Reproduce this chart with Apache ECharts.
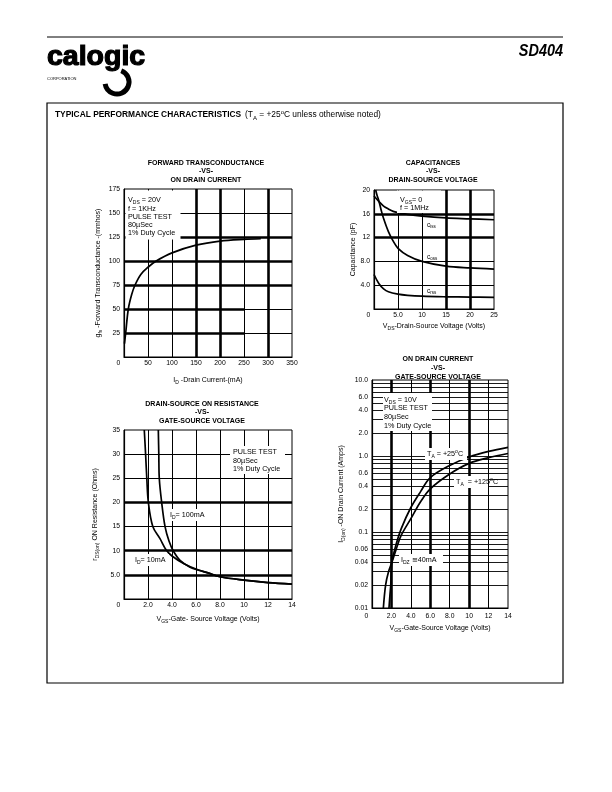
<!DOCTYPE html>
<html><head><meta charset="utf-8">
<script src="https://cdn.jsdelivr.net/npm/echarts@6/dist/echarts.min.js"></script>
<style>html,body{margin:0;padding:0;background:#fff}#c{width:612px;height:792px}</style>
</head><body><div id="c"></div>
<script>
// ---------------- DATA ----------------
// Chart 1: Forward transconductance vs on drain current
const gfsDrainCurrent = [1, 3.5, 9, 16, 23, 35, 50, 67, 100, 150, 200, 250, 285];
const gfsValues       = [14, 25, 50, 65, 75, 86, 93.5, 100, 108.5, 116.5, 120.8, 122.6, 123.2];
const gfsXTicks = ['0', '50', '100', '150', '200', '250', '300', '350'];
const gfsYTicks = ['', '25', '50', '75', '100', '125', '150', '175'];

// Chart 2: Capacitances vs drain-source voltage
const cissVoltage = [0, 1, 2, 3, 4, 5, 7, 10, 15, 20, 25];
const cissValues  = [19.0, 18.1, 17.3, 16.8, 16.4, 16.2, 15.9, 15.6, 15.3, 15.15, 15.0];
const cossVoltage = [0.35, 0.6, 1.0, 1.5, 2, 3, 4, 5, 7, 10, 15, 20, 25];
const cossValues  = [20, 19.2, 18.2, 16.6, 15.2, 13.0, 11.4, 10.2, 9.0, 8.0, 7.2, 6.9, 6.7];
const crssVoltage = [0, 1, 2, 3, 5, 7, 10, 15, 20, 25];
const crssValues  = [5.8, 4.3, 3.4, 2.9, 2.5, 2.3, 2.15, 2.05, 2.0, 1.95];
const capXTicks = ['0', '5.0', '10', '15', '20', '25'];
const capYTicks = ['', '4.0', '8.0', '12', '16', '20'];

// Chart 3: Drain-source on resistance vs gate-source voltage
const ronVgs10mA  = [1.69, 1.8, 1.9, 2.03, 2.4, 3.0, 3.5, 4.0, 5.0, 6.0, 7.0, 8.0, 10, 12, 14];
const ron10mA     = [35, 30, 25, 20, 15, 12.5, 10.2, 8.9, 7.3, 6.2, 5.4, 4.6, 3.9, 3.4, 3.1];
const ronVgs100mA = [2.86, 2.9, 2.94, 3.14, 3.42, 3.75, 4.1, 4.67, 5.5, 6.3, 7.0, 8.0, 10, 12, 14];
const ron100mA    = [35, 30, 25, 20, 15, 12, 10, 8, 6.6, 5.9, 5.4, 4.6, 3.9, 3.4, 3.1];
const ronXTicks = ['0', '2.0', '4.0', '6.0', '8.0', '10', '12', '14'];
const ronYTicks = ['', '5.0', '10', '15', '20', '25', '30', '35'];

// Chart 4: On drain current vs gate-source voltage (log)
const idVgs25  = [1.75, 1.85, 1.93, 2.05, 2.5, 3.0, 4.0, 5.0, 6.0, 8.0, 10, 12, 14];
const id25     = [0.01, 0.015, 0.02, 0.04, 0.07, 0.11, 0.21, 0.34, 0.52, 0.75, 0.97, 1.15, 1.3];
const idVgs125 = [1.17, 1.4, 1.7, 2.05, 2.5, 3.0, 4.0, 5.0, 6.0, 8.0, 10, 12, 14];
const id125    = [0.01, 0.02, 0.03, 0.04, 0.06, 0.09, 0.15, 0.25, 0.37, 0.58, 0.8, 0.95, 1.08];
const idXTicks = ['0', '2.0', '4.0', '6.0', '8.0', '10', '12', '14'];
const idYTickValues = [10, 6, 4, 2, 1, 0.6, 0.4, 0.2, 0.1, 0.06, 0.04, 0.02, 0.01];
const idYTickLabels = ['10.0', '6.0', '4.0', '2.0', '1.0', '0.6', '0.4', '0.2', '0.1', '0.06', '0.04', '0.02', '0.01'];
const idLogGridValues = [0.02,0.03,0.04,0.05,0.06,0.07,0.08,0.09,0.1,0.2,0.3,0.4,0.5,0.6,0.7,0.8,0.9,1,2,3,4,5,6,7,8,9];

// Grid line values (axis values)
const g1ThinY = [150], g1ThickY = [125, 100, 75];
const g1PartialY = [50, 25];
const g1ThinX = [50, 100, 250], g1ThickX = [150, 200, 300];
const g2ThickY = [16, 12], g2ThinY = [8, 4], g2ThinX = [5, 10], g2ThickX = [15, 20];
const g3ThickY = [20, 10, 5], g3ThinY = [30, 25, 15], g3ThinX = [2, 4, 6, 8, 10, 12];
const g4ThickX = [2, 6, 10], g4ThinX = [4, 8, 12];

// ---------------- RENDER ----------------
const FF = 'Liberation Sans, Arial, Helvetica, sans-serif';
const BLACK = '#000';
const THICK = 2.6, THIN = 1;
const zip = (a, b) => a.map((v, i) => [v, b[i]]);

function hLines(vals, w) { return vals.map(v => ({ yAxis: v, lineStyle: { width: w, color: BLACK, type: 'solid' } })); }
function vLines(vals, w) { return vals.map(v => ({ xAxis: v, lineStyle: { width: w, color: BLACK, type: 'solid' } })); }
function seg(x0, y0, x1, y1, w) {
  const ls = { width: w, color: BLACK, type: 'solid' };
  return [{ coord: [x0, y0], lineStyle: ls }, { coord: [x1, y1], lineStyle: ls }];
}
function ml(data) {
  return { silent: true, symbol: ['none', 'none'], label: { show: false }, animation: false,
    emphasis: { disabled: true }, lineStyle: { color: BLACK, type: 'solid' }, data };
}
const subRich = {
  n: { fontSize: 7, fontFamily: FF, color: BLACK, lineHeight: 10 },
  s: { fontSize: 5, fontFamily: FF, color: BLACK, verticalAlign: 'bottom', lineHeight: 6 }
};
const zeroRich = { z: { fontSize: 6.8, fontFamily: FF, color: BLACK, padding: [0, 11, 0, 0] } };

function xAx(grid, min, max, interval, labels, name, nameGap, margin) {
  return {
    type: 'value', gridIndex: grid, min, max, interval,
    axisLine: { show: true, lineStyle: { color: BLACK, width: 1.2 } },
    axisTick: { show: false }, splitLine: { show: false },
    axisLabel: { color: BLACK, fontSize: 6.8, fontFamily: FF, margin,
      formatter: (v, i) => (i === 0 ? '{z|' + labels[0] + '}' : labels[i]), rich: zeroRich },
    name, nameLocation: 'middle', nameGap,
    nameTextStyle: { color: BLACK, fontSize: 7, fontFamily: FF, rich: subRich }
  };
}
function yAx(grid, min, max, interval, labels, name, nameGap) {
  return {
    type: 'value', gridIndex: grid, min, max, interval,
    axisLine: { show: true, lineStyle: { color: BLACK, width: 1.2 } },
    axisTick: { show: false }, splitLine: { show: false },
    axisLabel: { color: BLACK, fontSize: 6.8, fontFamily: FF, margin: 4, formatter: (v, i) => labels[i] },
    name, nameLocation: 'middle', nameGap,
    nameTextStyle: { color: BLACK, fontSize: 7, fontFamily: FF, rich: subRich }
  };
}
function curve(x, y, xi, yi, data, mark) {
  const s = { type: 'line', xAxisIndex: xi, yAxisIndex: yi, data, showSymbol: false, smooth: 0.35,
    lineStyle: { color: BLACK, width: 1.7 }, animation: false, silent: true, z: 5 };
  if (mark) s.markLine = ml(mark);
  return s;
}

function nearestLabel(v) {
  let best = 0, bd = Infinity;
  idYTickValues.forEach((t, i) => { const d = Math.abs(Math.log10(v) - Math.log10(t)); if (d < bd) { bd = d; best = i; } });
  return idYTickLabels[best];
}

const option = {
  backgroundColor: '#fff',
  animation: false,
  grid: [
    { left: 124, top: 189, width: 168, height: 168, show: true, borderColor: BLACK, borderWidth: 1, backgroundColor: 'transparent' },
    { left: 374, top: 190, width: 120, height: 119, show: true, borderColor: BLACK, borderWidth: 1, backgroundColor: 'transparent' },
    { left: 124, top: 430, width: 168, height: 169, show: true, borderColor: BLACK, borderWidth: 1, backgroundColor: 'transparent' },
    { left: 372, top: 380, width: 136, height: 228, show: true, borderColor: BLACK, borderWidth: 1, backgroundColor: 'transparent' }
  ],
  xAxis: [
    xAx(0, 0, 350, 50, gfsXTicks, '{n|I}{s|D}{n| -Drain Current-(mA)}', 18, 3),
    xAx(1, 0, 25, 5, capXTicks, '{n|V}{s|DS}{n|-Drain-Source Voltage (Volts)}', 12, 3),
    xAx(2, 0, 14, 2, ronXTicks, '{n|V}{s|GS}{n|-Gate- Source Voltage (Volts)}', 15, 3),
    xAx(3, 0, 14, 2, idXTicks, '{n|V}{s|GS}{n|-Gate-Source Voltage (Volts)}', 15, 5)
  ],
  yAxis: [
    yAx(0, 0, 175, 25, gfsYTicks, '{n|g}{s|fs}{n| -Forward Transconductance -(mmhos)}', 21),
    yAx(1, 0, 20, 4, capYTicks, 'Capacitance (pF)', 17),
    yAx(2, 0, 35, 5, ronYTicks, '{n|r}{s|DS(on)}{n| ON Resistance (Ohms)}', 24),
    {
      type: 'log', logBase: 10, gridIndex: 3, min: 0.01, max: 10,
      axisLine: { show: true, lineStyle: { color: BLACK, width: 1.2 } },
      axisTick: { show: false }, splitLine: { show: false }, minorSplitLine: { show: false },
      axisLabel: { color: BLACK, fontSize: 6.8, fontFamily: FF, margin: 4,
        customValues: idYTickValues, formatter: (v) => nearestLabel(v) },
      name: '{n|I}{s|D(on)}{n| -ON Drain Current (Amps)}', nameLocation: 'middle', nameGap: 26,
      nameTextStyle: { color: BLACK, fontSize: 7, fontFamily: FF, rich: subRich }
    }
  ],
  series: [
    curve(0, 0, 0, 0, zip(gfsDrainCurrent, gfsValues), [
      ...hLines(g1ThinY, THIN), ...hLines(g1ThickY, THICK),
      ...g1PartialY.map(v => seg(0, v, 250, v, THICK)), ...g1PartialY.map(v => seg(250, v, 350, v, THIN)),
      ...vLines(g1ThinX, THIN), ...vLines(g1ThickX, THICK)
    ]),
    curve(1, 1, 1, 1, zip(cissVoltage, cissValues), [
      ...hLines(g2ThickY, THICK), ...hLines(g2ThinY, THIN), ...vLines(g2ThinX, THIN), ...vLines(g2ThickX, THICK)
    ]),
    curve(1, 1, 1, 1, zip(cossVoltage, cossValues)),
    curve(1, 1, 1, 1, zip(crssVoltage, crssValues)),
    curve(2, 2, 2, 2, zip(ronVgs10mA, ron10mA), [
      ...hLines(g3ThickY, THICK), ...hLines(g3ThinY, THIN), ...vLines(g3ThinX, THIN)
    ]),
    curve(2, 2, 2, 2, zip(ronVgs100mA, ron100mA)),
    curve(3, 3, 3, 3, zip(idVgs25, id25), [
      ...hLines(idLogGridValues, 0.9), ...vLines(g4ThickX, THICK), ...vLines(g4ThinX, THIN)
    ]),
    curve(3, 3, 3, 3, zip(idVgs125, id125))
  ],
  graphic: []
};

// ---------- page graphics (text & frame) ----------
const G = option.graphic;
function txt(x, y, text, o = {}) {
  G.push({ type: 'text', x, y, z: 100, silent: true, scaleX: o.scaleX || 1,
    style: { text, fill: BLACK, fontSize: o.size || 7, fontFamily: o.family || FF, fontWeight: o.weight || 'normal',
      fontStyle: o.style || 'normal', textAlign: o.align || 'left', textVerticalAlign: 'middle', rich: o.rich,
      stroke: o.stroke ? BLACK : null, lineWidth: o.stroke || 0 } });
}
function rect(x, y, w, h) { G.push({ type: 'rect', z: 90, silent: true, shape: { x, y, width: w, height: h }, style: { fill: '#fff' } }); }
const annRich = {
  n: { fontSize: 7.2, fontFamily: FF, color: BLACK, lineHeight: 10 },
  s: { fontSize: 5, fontFamily: FF, color: BLACK, verticalAlign: 'bottom', lineHeight: 6 },
  u: { fontSize: 5, fontFamily: FF, color: BLACK, verticalAlign: 'top', lineHeight: 6 }
};

// header
G.push({ type: 'line', z: 100, shape: { x1: 47, y1: 37, x2: 563, y2: 37 }, style: { stroke: BLACK, lineWidth: 1 } });
txt(47, 57, 'calogic', { size: 28.5, weight: 'bold', family: 'Liberation Sans, Arial, sans-serif', stroke: 1.2 });
G.push({ type: 'arc', z: 100, shape: { cx: 117, cy: 82, r: 12, startAngle: -Math.PI / 2.6, endAngle: Math.PI * 0.95, clockwise: true },
  style: { stroke: BLACK, lineWidth: 5, fill: null } });
txt(47, 79, 'CORPORATION', { size: 4 });
txt(563, 51, 'SD404', { size: 17, weight: 'bold', style: 'italic', align: 'right', scaleX: 0.85 });
G.push({ type: 'rect', z: 100, shape: { x: 47, y: 103, width: 516, height: 580 }, style: { fill: null, stroke: BLACK, lineWidth: 1.2 } });
txt(55, 115, '{b|TYPICAL PERFORMANCE CHARACTERISTICS}  {n|(T}{s|A}{n| = +25}{u|o}{n|C unless otherwise noted)}', {
  rich: {
    b: { fontSize: 8.4, fontWeight: 'bold', fontFamily: FF, color: BLACK, lineHeight: 12 },
    n: { fontSize: 8.4, fontFamily: FF, color: BLACK, lineHeight: 12 },
    s: { fontSize: 6, fontFamily: FF, color: BLACK, verticalAlign: 'bottom', lineHeight: 8 },
    u: { fontSize: 6, fontFamily: FF, color: BLACK, verticalAlign: 'top', lineHeight: 8 }
  }
});

// chart titles
const tb = { weight: 'bold', align: 'center', size: 7 };
txt(206, 163, 'FORWARD TRANSCONDUCTANCE', tb); txt(206, 171.5, '-VS-', tb); txt(206, 180, 'ON DRAIN CURRENT', tb);
txt(433, 163, 'CAPACITANCES', tb); txt(433, 171.5, '-VS-', tb); txt(433, 180, 'DRAIN-SOURCE VOLTAGE', tb);
txt(202, 404, 'DRAIN-SOURCE ON RESISTANCE', tb); txt(202, 412.5, '-VS-', tb); txt(202, 421, 'GATE-SOURCE VOLTAGE', tb);
txt(438, 359, 'ON DRAIN CURRENT', tb); txt(438, 368, '-VS-', tb); txt(438, 377, 'GATE-SOURCE VOLTAGE', tb);

// chart 1 annotation
rect(125.5, 190.5, 55, 49);
txt(128, 200, '{n|V}{s|DS}{n| = 20V}', { rich: annRich });
txt(128, 209, 'f = 1KHz', { size: 7.2 });
txt(128, 217, 'PULSE TEST', { size: 7.2 });
txt(128, 225, '80µSec', { size: 7.2 });
txt(128, 233, '1% Duty Cycle', { size: 7.2 });

// chart 2 annotation
rect(397, 190.5, 44, 22.5);
txt(400, 200, '{n|V}{s|GS}{n|= 0}', { rich: annRich });
txt(400, 208, 'f = 1MHz', { size: 7.2 });
const capRich = { n: { fontSize: 6.5, fontFamily: FF, color: BLACK, lineHeight: 9 }, s: { fontSize: 4.5, fontFamily: FF, color: BLACK, verticalAlign: 'bottom', lineHeight: 5 } };
txt(427, 225, '{n|c}{s|iss}', { rich: capRich });
txt(427, 257, '{n|c}{s|oss}', { rich: capRich });
txt(427, 291, '{n|c}{s|rss}', { rich: capRich });

// chart 3 annotation
rect(230, 446, 55, 28);
txt(233, 452.5, 'PULSE TEST', { size: 7.2 });
txt(233, 461, '80µSec', { size: 7.2 });
txt(233, 469, '1% Duty Cycle', { size: 7.2 });
rect(168, 509, 33, 12);
txt(170, 515, '{n|I}{s|D}{n|= 100mA}', { rich: annRich });
rect(133, 554, 36, 12);
txt(135, 560, '{n|I}{s|D}{n|= 10mA}', { rich: annRich });

// chart 4 annotation
rect(383, 393, 49, 38);
txt(384, 400, '{n|V}{s|DS}{n| = 10V}', { rich: annRich });
txt(384, 408.5, 'PULSE TEST', { size: 7.2 });
txt(384, 417, '80µSec', { size: 7.2 });
txt(384, 426.5, '1% Duty Cycle', { size: 7.2 });
rect(425, 448, 42, 12);
txt(427, 454, '{n|T}{s|A}{n| = +25}{u|o}{n|C}', { rich: annRich });
rect(454, 476, 34, 12);
txt(456, 482, '{n|T}{s|A}{n|  = +125}{u|o}{n|C}', { rich: annRich });
rect(399, 554, 44, 12);
txt(401, 560, '{n|I}{s|DZ}{n| ≅40mA}', { rich: annRich });

const chart = echarts.init(document.getElementById('c'), null, { renderer: 'canvas', width: 612, height: 792 });
chart.setOption(option);
</script>
</body></html>
